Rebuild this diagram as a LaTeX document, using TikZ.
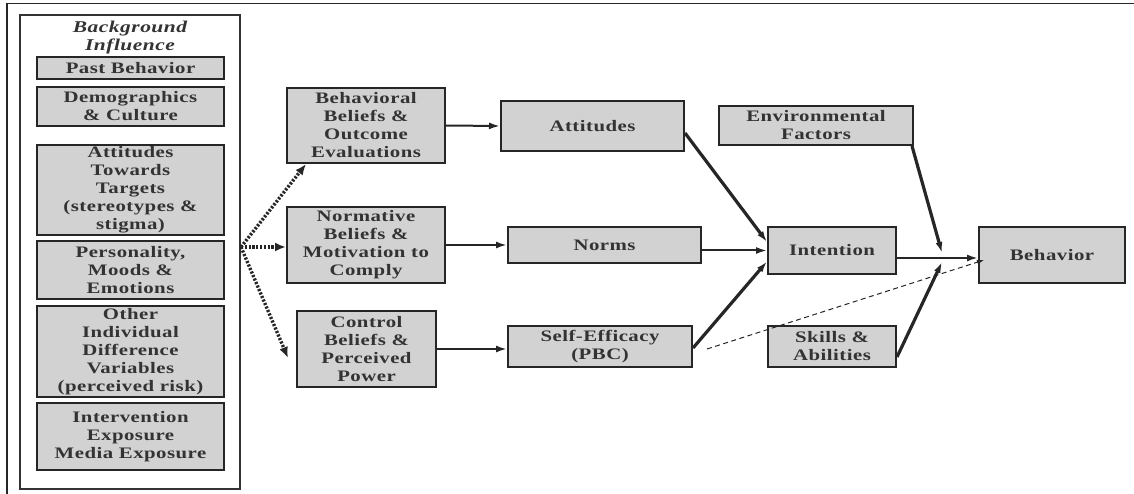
\documentclass[tikz,border=0pt]{standalone}
\usepackage{fontspec}
\setmainfont{Liberation Serif}[FakeStretch=1.3,LetterSpace=3]
\usetikzlibrary{arrows.meta}

\tikzset{
  box/.style={draw=black!85, line width=2pt, fill=gray!35, inner sep=0pt,
    align=center, text=black!80, font=\fontsize{16}{18}\selectfont\bfseries},
  flow/.style={-{Latex[length=11pt,width=7pt]}, line width=2pt, black!85},
  heavy/.style={flow, line width=3.2pt},
  influence/.style={-{Latex[length=11pt,width=9pt]}, line width=3.4pt, black!85,
    dash pattern=on 2.2pt off 1.6pt},
  weak/.style={-{Latex[length=7pt,width=5pt]}, line width=1pt, black!85,
    dash pattern=on 5pt off 3.5pt}
}

\begin{document}
\begin{tikzpicture}[x=1pt,y=-1pt]
\useasboundingbox (0,0) rectangle (1134,494);
\draw[line width=1.8pt, black!85] (7,494) -- (7,3.5) -- (1134,3.5);
\draw[line width=1.6pt, black!80] (20,15) rectangle (240,489);
\node[text=black!80, align=center, font=\fontsize{16.5}{18}\selectfont\bfseries\itshape]
  (bgtitle) at (130,38) {Background\\Influence};

\node[box, minimum width=187, minimum height=22] (past) at (130.5,68) {Past Behavior};
\node[box, minimum width=187, minimum height=39] (demo) at (130.5,106.5) {Demographics\\\& Culture};
\node[box, minimum width=187, minimum height=90] (targets) at (130.5,190) {Attitudes\\Towards\\Targets\\(stereotypes \&\\stigma)};
\node[box, minimum width=187, minimum height=58] (persona) at (130.5,270) {Personality,\\Moods \&\\Emotions};
\node[box, minimum width=187, minimum height=91] (indiv) at (130.5,351.5) {Other\\Individual\\Difference\\Variables\\(perceived risk)};
\node[box, minimum width=187, minimum height=67] (expo) at (130.5,436.5) {Intervention\\Exposure\\Media Exposure};

\node[box, minimum width=158, minimum height=75] (bbel) at (366,125.5) {Behavioral\\Beliefs \&\\Outcome\\Evaluations};
\node[box, minimum width=158, minimum height=76] (nbel) at (366,245) {Normative\\Beliefs \&\\Motivation to\\Comply};
\node[box, minimum width=139, minimum height=76] (cbel) at (366.5,349) {Control\\Beliefs \&\\Perceived\\Power};

\node[box, minimum width=183, minimum height=50] (att) at (592.5,126) {Attitudes};
\node[box, minimum width=193, minimum height=36] (norms) at (604.5,245) {Norms};
\node[box, minimum width=184, minimum height=41] (pbc) at (600,346.5) {Self-Efficacy\\(PBC)};

\node[box, minimum width=194, minimum height=39] (env) at (816,125.5) {Environmental\\Factors};
\node[box, minimum width=128, minimum height=47] (intent) at (832,250.5) {Intention};
\node[box, minimum width=128, minimum height=41] (skills) at (832,346.5) {Skills \&\\Abilities};
\node[box, minimum width=146, minimum height=56] (behav) at (1052,255) {Behavior};

\coordinate (src) at (241,247);
\coordinate (hub) at (942,258);
\draw[influence] (src) -- ([xshift=20pt]bbel.south west);
\draw[influence] (src) -- (src -| nbel.west);
\draw[influence] (src) -- ([xshift=-8pt,yshift=-9pt]cbel.west);

\draw[flow] (bbel.east) -- (att.west);
\draw[flow] (nbel.east) -- (nbel.east -| norms.west);
\draw[flow] (cbel.east) -- (cbel.east -| pbc.west);
\draw[heavy] ([yshift=-7pt]att.east) -- ([yshift=8.5pt]intent.west);
\draw[flow] (intent.west -| norms.east) -- (intent.west);
\draw[heavy] ([yshift=-1.5pt]pbc.east) -- ([yshift=-11pt]intent.west);
\draw[flow] (intent.east |- hub) -- (hub -| behav.west);
\draw[heavy] ([xshift=-2pt]env.south east) -- ([yshift=5pt]hub);
\draw[heavy] ([yshift=-10.5pt]skills.east) -- ([yshift=-4pt]hub);
\draw[weak] ([xshift=14pt,yshift=-2.5pt]pbc.east) -- ([xshift=6pt,yshift=-5pt]behav.west);
\end{tikzpicture}
\end{document}
